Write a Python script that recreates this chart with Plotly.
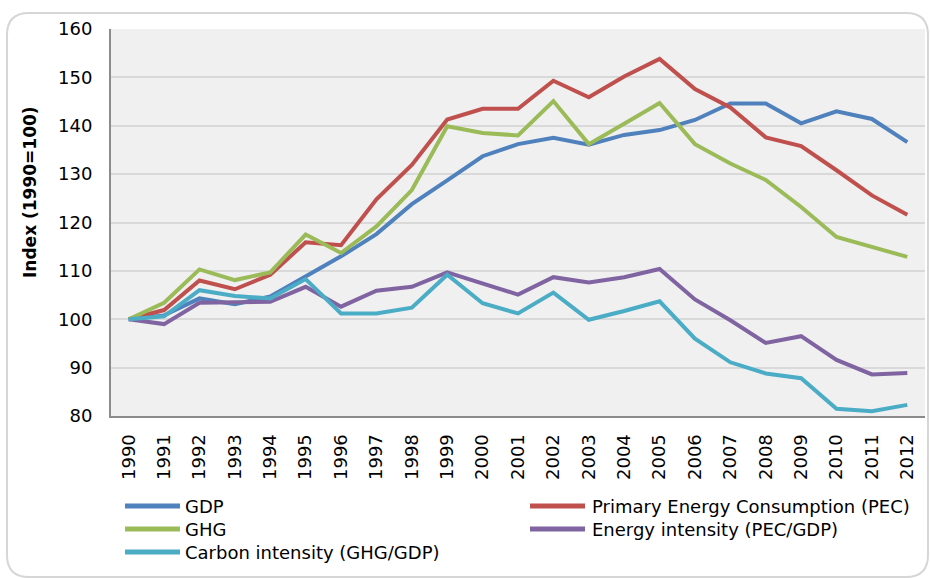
import plotly.graph_objects as go

# Index values (1990 = 100)
years = [str(y) for y in range(1990, 2013)]

gdp = [100, 100.8, 104.3, 103.1, 104.7, 108.8, 113.0, 117.6, 123.8, 128.7, 133.7, 136.2,
       137.5, 136.1, 138.1, 139.1, 141.2, 144.6, 144.6, 140.5, 143.0, 141.4, 136.6]
pec = [100, 101.9, 108.0, 106.2, 109.2, 115.9, 115.3, 124.8, 131.9, 141.3, 143.5, 143.5,
       149.3, 145.9, 150.2, 153.8, 147.6, 143.8, 137.6, 135.8, 130.8, 125.6, 121.6]
ghg = [100, 103.4, 110.3, 108.1, 109.7, 117.5, 113.7, 119.2, 126.7, 139.9, 138.5, 138.0,
       145.1, 136.2, 140.4, 144.7, 136.2, 132.2, 128.8, 123.2, 117.0, 115.0, 112.9]
energy_intensity = [100, 99.0, 103.4, 103.4, 103.6, 106.7, 102.6, 105.9, 106.7, 109.7, 107.3, 105.1,
                    108.7, 107.6, 108.7, 110.4, 104.1, 99.8, 95.1, 96.5, 91.6, 88.6, 88.9]
carbon_intensity = [100, 100.6, 106.0, 104.8, 104.3, 108.3, 101.2, 101.2, 102.4, 109.2, 103.3, 101.2,
                    105.5, 99.9, 101.7, 103.7, 96.0, 91.1, 88.8, 87.8, 81.5, 81.0, 82.3]

series_names = ["GDP", "Primary Energy Consumption (PEC)", "GHG",
                "Energy intensity (PEC/GDP)", "Carbon intensity (GHG/GDP)"]
series_values = [gdp, pec, ghg, energy_intensity, carbon_intensity]
series_colors = ["#4F81BD", "#C0504D", "#9BBB59", "#8064A2", "#4BACC6"]

y_ticks = [80, 90, 100, 110, 120, 130, 140, 150, 160]

W, H = 930, 578
L, R, T, B = 111, 925, 29, 416   # plot area in pixels
pw, ph = R - L, B - T


def px(x):
    return (x - L) / pw


def py(y):
    return (B - y) / ph


FONT = "DejaVu Sans, Verdana, sans-serif"

fig = go.Figure()
for name, vals, col in zip(series_names, series_values, series_colors):
    fig.add_trace(go.Scatter(x=years, y=vals, name=name, mode="lines",
                             line=dict(color=col, width=4), showlegend=False))

shapes = []
annotations = []

# rounded outer frame
x0, x1, y0, y1, r = 7, 928, 13, 577, 22
path = (f"M{px(x0 + r)},{py(y0)} L{px(x1 - r)},{py(y0)} Q{px(x1)},{py(y0)} {px(x1)},{py(y0 + r)} "
        f"L{px(x1)},{py(y1 - r)} Q{px(x1)},{py(y1)} {px(x1 - r)},{py(y1)} "
        f"L{px(x0 + r)},{py(y1)} Q{px(x0)},{py(y1)} {px(x0)},{py(y1 - r)} "
        f"L{px(x0)},{py(y0 + r)} Q{px(x0)},{py(y0)} {px(x0 + r)},{py(y0)} Z")
shapes.append(dict(type="path", xref="paper", yref="paper", path=path,
                   line=dict(color="#D6D6D6", width=2), layer="below"))

# legend: two columns, filled row by row
legend_cols = [(125, 180, 183), (530, 585, 590)]
legend_rows = [506, 529, 552]
for i, (name, col) in enumerate(zip(series_names, series_colors)):
    lx0, lx1, tx = legend_cols[i % 2]
    ly = legend_rows[i // 2]
    shapes.append(dict(type="line", xref="paper", yref="paper",
                       x0=px(lx0), x1=px(lx1), y0=py(ly), y1=py(ly),
                       line=dict(color=col, width=5)))
    annotations.append(dict(xref="paper", yref="paper", x=px(tx), y=py(ly),
                            text=name, showarrow=False, xanchor="left", yanchor="middle",
                            font=dict(family=FONT, size=18, color="#000000")))

# y-axis title
annotations.append(dict(xref="paper", yref="paper", x=px(30), y=py(192),
                        text="Index (1990=100)", textangle=-90, showarrow=False,
                        xanchor="center", yanchor="middle",
                        font=dict(family=FONT, size=17, color="#000000", weight="bold")))

fig.update_layout(
    width=W, height=H,
    margin=dict(l=L, r=W - R, t=T, b=H - B),
    paper_bgcolor="#FFFFFF",
    plot_bgcolor="#F0F0F0",
    showlegend=False,
    shapes=shapes,
    annotations=annotations,
    xaxis=dict(type="category", categoryarray=years, range=[-0.5, len(years) - 0.5],
               showgrid=False, showline=True, linecolor="#8C8C8C", linewidth=2,
               ticks="", tickangle=-90, ticklabelstandoff=9,
               tickfont=dict(family=FONT, size=18, color="#000000"), fixedrange=True),
    yaxis=dict(range=[80, 160], tickvals=y_ticks, showgrid=True, gridcolor="#D9D9D9",
               gridwidth=2, zeroline=False, showline=True, linecolor="#8C8C8C", linewidth=2,
               ticks="", ticklabelstandoff=13,
               tickfont=dict(family=FONT, size=18, color="#000000"), fixedrange=True),
)

fig.write_html("out.html")
